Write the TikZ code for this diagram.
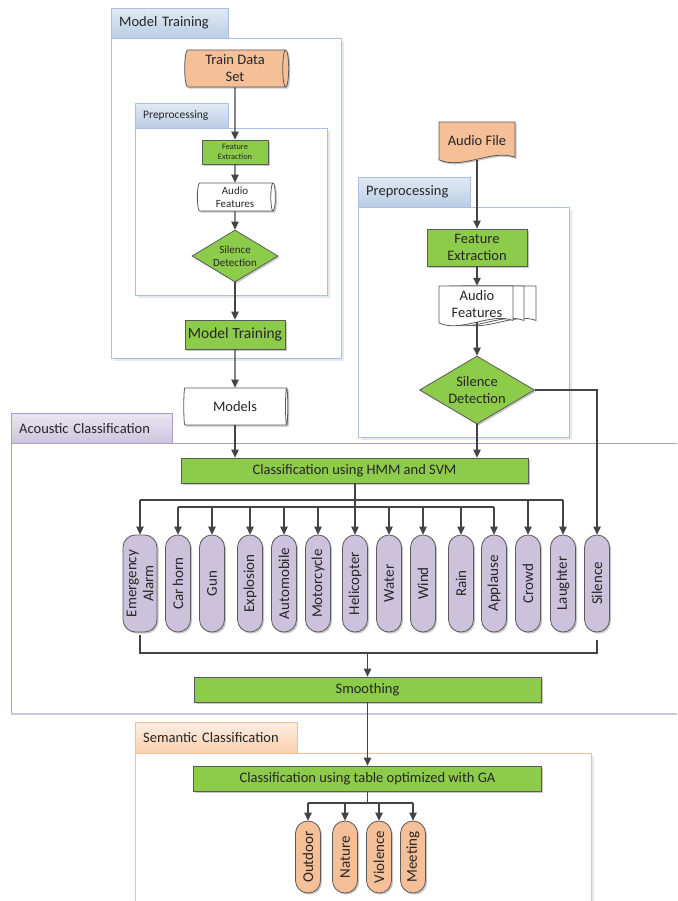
\documentclass[tikz,border=0pt]{standalone}
\usepackage{fontspec}
\setmainfont{Carlito}
\usetikzlibrary{arrows.meta,shapes.geometric,shadows}

\definecolor{ink}{HTML}{262626}
\definecolor{wire}{HTML}{444444}
\definecolor{edge}{HTML}{5A5A5A}
\definecolor{leaf}{HTML}{8DCB4A}
\definecolor{peach}{HTML}{F5BF98}
\definecolor{lilac}{HTML}{CCC2DC}
\definecolor{blueline}{HTML}{A9C1E0}
\definecolor{bluetop}{HTML}{E1EAF4}
\definecolor{bluebot}{HTML}{B9CDE5}
\definecolor{purpline}{HTML}{A99DC8}
\definecolor{purptop}{HTML}{EAE6F1}
\definecolor{purpbot}{HTML}{CDC4DD}
\definecolor{orline}{HTML}{F7BE92}
\definecolor{ortop}{HTML}{FDEEE2}
\definecolor{orbot}{HTML}{F9CFAE}

\newcommand\docshape[5]{% style, left x, top y, width, height
  \path[#1] (#2,#3) -- ({#2+#4},#3) -- ({#2+#4},{#3+0.82*#5})
    .. controls ({#2+0.7*#4},{#3+0.62*#5}) and ({#2+0.3*#4},{#3+1.12*#5}) ..
    (#2,{#3+0.88*#5}) -- cycle;}

\begin{document}
\begin{tikzpicture}[x=1pt,y=-1pt,
  every node/.style={text=ink},
  big/.style={font=\fontsize{14.5}{17}\selectfont},
  shade box/.style={drop shadow={shadow xshift=1.6pt,shadow yshift=-1.6pt,fill=black,opacity=.22}},
  proc/.style={rectangle,draw=edge,line width=.8pt,fill=leaf,inner sep=0pt,align=center,shade box},
  conn/.style={draw=wire,line width=1.3pt},
  arr/.style={conn,-{Triangle[length=8pt,width=7.5pt]}},
  drum/.style={cylinder,draw=edge,line width=.8pt,aspect=.22,inner sep=0pt,align=center,shade box},
  gate/.style={diamond,draw=edge,line width=.8pt,fill=leaf,inner sep=0pt,align=center,shade box},
  pill/.style={rectangle,rotate=90,draw=edge,line width=.8pt,rounded corners=12.4pt,
    minimum height=25pt,inner sep=0pt,align=center,
    font=\fontsize{15}{17}\selectfont,shade box},
  tab/.style={rectangle,draw=#1line,top color=#1top,bottom color=#1bot,anchor=north west,
    align=left,inner xsep=8pt,inner ysep=0pt,big},
  framebox/.style={draw=#1line,line width=.8pt,fill=white},
  frameshadow/.style={fill=black!9},
]
\useasboundingbox (0,0) rectangle (677,901);

% ---------- frames ----------
% Model training
\fill[frameshadow] (114,41) rectangle (344,361);
\draw[framebox=blue] (111,38) rectangle (341,358);
\node[tab=blue,minimum width=117pt,minimum height=30pt,text width=101pt] (mtTab) at (111,8) {Model Training};
\fill[frameshadow] (138,131) rectangle (330,298);
\draw[framebox=blue] (135,128) rectangle (327,295);
\node[tab=blue,minimum width=93pt,minimum height=25pt,text width=77pt,font=\fontsize{11.5}{13}\selectfont] (ppTabL) at (135,103) {Preprocessing};

% Right preprocessing
\fill[frameshadow] (361,210) rectangle (572,440);
\draw[framebox=blue] (358,207) rectangle (569,437);
\node[tab=blue,minimum width=112pt,minimum height=30pt,text width=96pt] (ppTabR) at (358,177) {Preprocessing};

% Acoustic classification
\draw[purpline,line width=.8pt] (677,443) -- (11,443) -- (11,714);
\draw[purpbot,line width=2pt] (11,714) -- (677,714);
\node[tab=purp,minimum width=161pt,minimum height=30pt,text width=145pt] (acTab) at (11,413) {Acoustic Classification};

% Semantic classification
\fill[black!9] (591,756) rectangle (594,901);
\draw[orline,line width=.9pt] (135,901) -- (135,753) -- (591,753) -- (591,901);
\node[tab=or,minimum width=162pt,minimum height=31pt,text width=146pt] (scTab) at (135,722) {Semantic Classification};

% ---------- model training branch ----------
\node[drum,fill=peach,minimum height=104pt,minimum width=37pt,big] (tds) at (235,68.5) {Train Data\\Set};
\node[proc,minimum width=66pt,minimum height=24pt,font=\fontsize{8.3}{10}\selectfont] (feL) at (235,152) {Feature\\Extraction};
\node[drum,fill=white,minimum height=78pt,minimum width=28pt,font=\fontsize{11}{13}\selectfont] (afL) at (235,197) {Audio\\Features};
\node[gate,aspect=1.65,minimum width=86pt,minimum height=52pt,font=\fontsize{11}{13}\selectfont] (sdL) at (235,256) {Silence\\Detection};
\node[proc,minimum width=100pt,minimum height=29pt,font=\fontsize{15.5}{17}\selectfont] (mt) at (235,334.5) {Model Training};
\node[drum,fill=white,minimum height=104pt,minimum width=37pt,big] (models) at (235,406.5) {Models};

% ---------- audio file branch ----------
\docshape{draw=edge,line width=.8pt,fill=peach,drop shadow={shadow xshift=1.6pt,shadow yshift=-1.6pt,fill=black,opacity=.22}}{439}{122}{76}{43}
\node[big,minimum width=76pt,minimum height=38pt,inner sep=0pt] (af) at (477,141) {Audio File};
\node[proc,minimum width=100pt,minimum height=37pt,big] (feR) at (477,247.5) {Feature\\Extraction};
\docshape{draw=edge,line width=.8pt,fill=white}{462}{286}{74}{42}
\docshape{draw=edge,line width=.8pt,fill=white}{450}{286}{74}{42}
\docshape{draw=edge,line width=.8pt,fill=white}{439}{286}{74}{42}
\node[big,minimum width=74pt,minimum height=36pt,inner sep=0pt,align=center] (afR) at (477,304) {Audio\\Features};
\node[gate,aspect=1.7,minimum width=115pt,minimum height=68pt,big] (sdR) at (477,390) {Silence\\Detection};

% ---------- acoustic classification ----------
\node[proc,minimum width=347pt,minimum height=25pt,big] (hmm) at (354.5,470.5) {Classification using HMM and SVM};

\foreach \n/\x/\w/\t in {e1/140/34/{Emergency\\Alarm},e2/178/25/{Car horn},e3/212/25/Gun,
    e4/250/25/Explosion,e5/284/25/Automobile,e6/318/25/Motorcycle,e7/355/25/Helicopter,
    e8/389/25/Water,e9/423/25/Wind,e10/461/25/Rain,e11/494/25/Applause,e12/528/25/Crowd,
    e13/563/25/Laughter,e14/597/25/Silence}
  \node[pill,fill=lilac,minimum width=97pt,minimum height=\w pt] (\n) at (\x,583.5) {\t};

\node[proc,minimum width=347pt,minimum height=25pt,big] (sm) at (367.5,689.5) {Smoothing};

% ---------- semantic classification ----------
\node[proc,minimum width=348pt,minimum height=25pt,big] (ga) at (367.5,778.5) {Classification using table optimized with GA};
\foreach \n/\x/\t in {s1/308/Outdoor,s2/345/Nature,s3/379/Violence,s4/413/Meeting}
  \node[pill,fill=peach,minimum width=72pt] (\n) at (\x,857) {\t};

% ---------- connectors ----------
\draw[arr] (tds.south) -- (feL.north);
\draw[arr] (feL.south) -- (afL.north);
\draw[arr] (afL.south) -- (sdL.north);
\draw[arr] (sdL.south) -- (mt.north);
\draw[arr] (mt.south) -- (models.north);
\draw[arr] (models.south) -- (hmm.north -| models.south);

\draw[arr] (af.south) -- (feR.north);
\draw[arr] (feR.south) -- (afR.north);
\draw[arr] (afR.south) -- (sdR.north);
\draw[arr] (sdR.south) -- (hmm.north -| sdR.south);
\draw[arr] (sdR.east) -| (e14.east);

\coordinate (busU) at (0,500);
\coordinate (busL) at (0,507);
\coordinate (joinY) at (0,653);
\coordinate (gaBus) at (0,803);

\draw[conn] (hmm.south -| e7.east) -- (e7.east |- busL);
\draw[conn] (e1.east |- busU) -- (e13.east |- busU);
\draw[conn] (e2.east |- busL) -- (e11.east |- busL);
\foreach \n in {e1,e12,e13}
  \draw[arr] (\n.east |- busU) -- (\n.east);
\foreach \n in {e2,e3,e4,e5,e6,e7,e8,e9,e10,e11}
  \draw[arr] (\n.east |- busL) -- (\n.east);

\draw[conn] ([yshift=-3pt]e1.west) |- (e14.west |- joinY) -- ([yshift=-8pt]e14.west);
\draw[arr] (sm.north |- joinY) -- (sm.north);
\draw[arr] (sm.south) -- (ga.north);

\draw[conn] (ga.south) -- (ga.south |- gaBus);
\draw[conn] (s1.east |- gaBus) -- (s4.east |- gaBus);
\foreach \n in {s1,s2,s3,s4}
  \draw[arr] (\n.east |- gaBus) -- (\n.east);
\end{tikzpicture}
\end{document}
